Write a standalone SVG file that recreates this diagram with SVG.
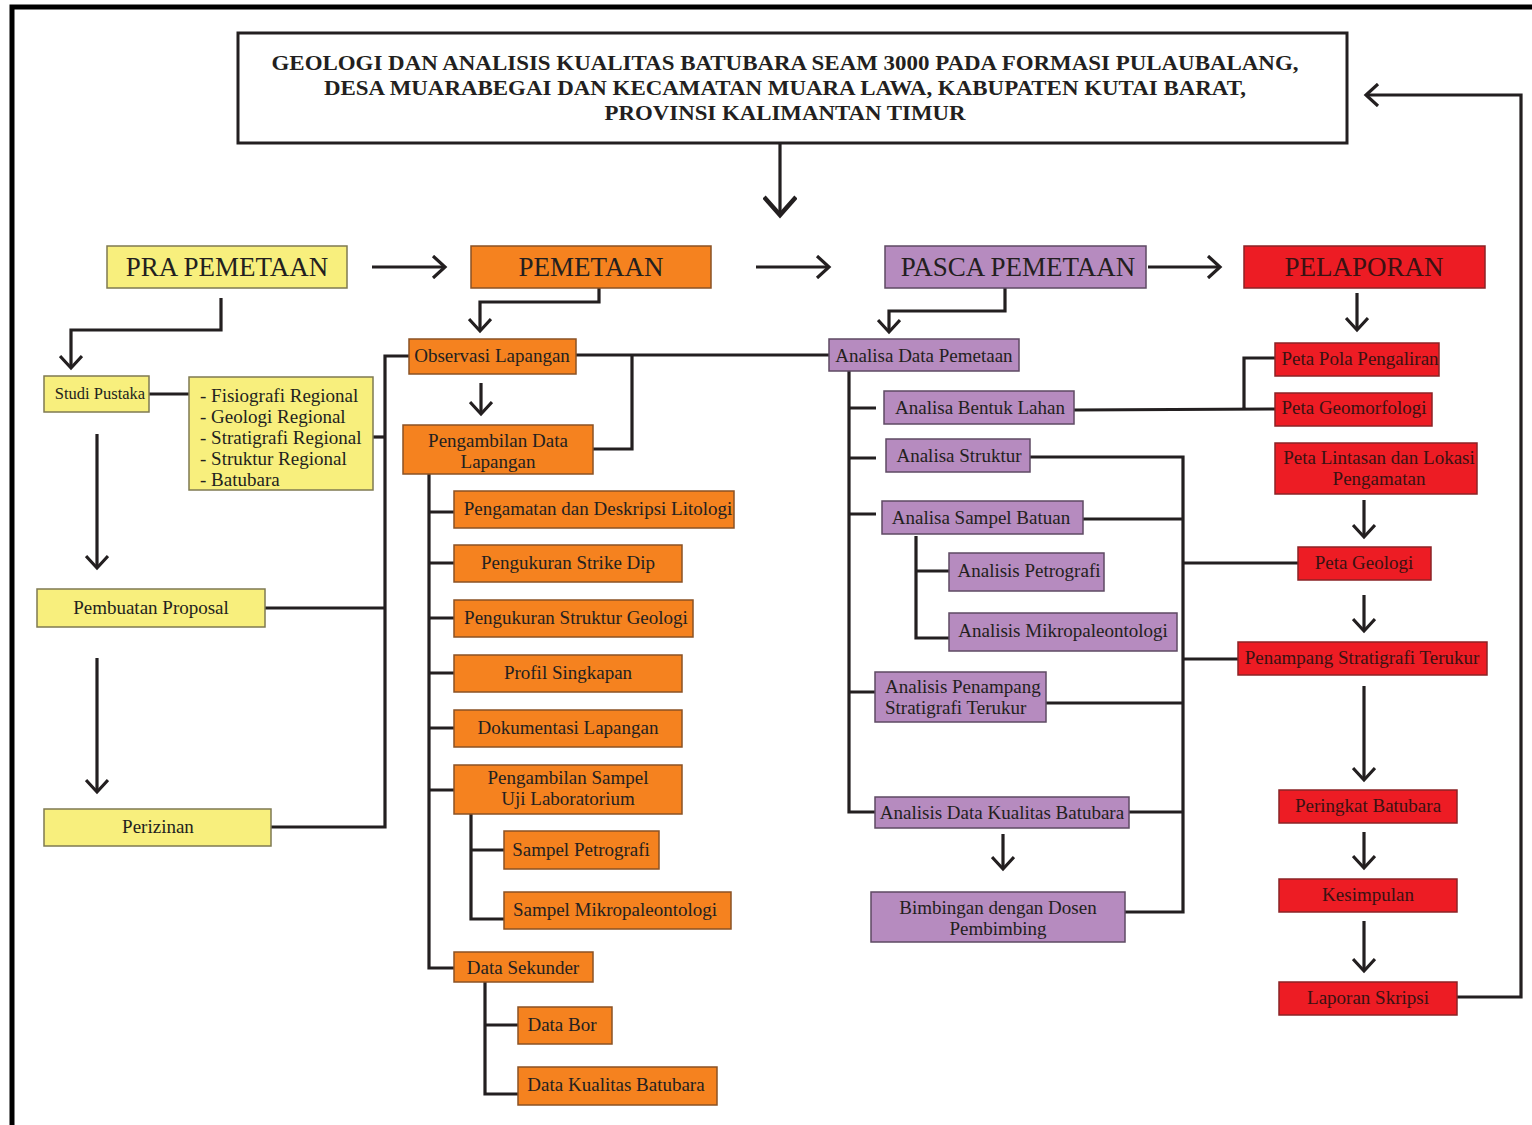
<svg xmlns="http://www.w3.org/2000/svg" width="1532" height="1125" viewBox="0 0 1532 1125">
<defs>
<style>
text{font-family:"Liberation Serif","Times New Roman",serif;fill:#231f20;text-anchor:middle}
.y{fill:#f8ef7d;stroke:#7f7a52;stroke-width:1.5}
.o{fill:#f5821f;stroke:#8a5224;stroke-width:1.5}
.p{fill:#b68bbf;stroke:#5e4a63;stroke-width:1.5}
.r{fill:#ed1c24;stroke:#8b2326;stroke-width:1.5}
.rt{fill:#3a1212}
.h{font-size:27px}
.n{font-size:19px}
.s{font-size:19px}
.c{fill:none;stroke:#231f20;stroke-width:3.2}
.lt{text-anchor:start}
</style>
<marker id="ah" viewBox="0 0 24 24" refX="21" refY="12" markerWidth="24" markerHeight="24" markerUnits="userSpaceOnUse" orient="auto">
<path d="M9,1 L21,12 L9,23" fill="none" stroke="#231f20" stroke-width="3.2"/>
</marker>
<marker id="ahL" viewBox="0 0 34 34" refX="30" refY="17" markerWidth="34" markerHeight="34" markerUnits="userSpaceOnUse" orient="auto">
<path d="M12,1 L30,17 L12,33" fill="none" stroke="#231f20" stroke-width="4.5"/>
</marker>
</defs>
<rect width="1532" height="1125" fill="#ffffff"/>
<g id="frame">
<path d="M12,1125 L12,7 L1532,7" fill="none" stroke="#000" stroke-width="5"/>
</g>

<g id="connectors">
<path class="c" d="M780,143 L780,215" stroke-width="4.5" marker-end="url(#ahL)"/>
<path class="c" d="M372,267 L445,267" marker-end="url(#ah)"/>
<path class="c" d="M756,267 L829,267" marker-end="url(#ah)"/>
<path class="c" d="M1148,267 L1220,267" marker-end="url(#ah)"/>
<path class="c" d="M221,298 L221,330 L71,330 L71,368" marker-end="url(#ah)"/>
<path class="c" d="M149,394 L189,394"/>
<path class="c" d="M97,434 L97,568" marker-end="url(#ah)"/>
<path class="c" d="M97,658 L97,792" marker-end="url(#ah)"/>
<path class="c" d="M409,356 L385,356 L385,827 L271,827"/>
<path class="c" d="M373,437 L385,437"/>
<path class="c" d="M265,608 L385,608"/>
<path class="c" d="M599,288 L599,302 L480,302 L480,331" marker-end="url(#ah)"/>
<path class="c" d="M576,355 L829,355"/>
<path class="c" d="M632,355 L632,449 L593,449"/>
<path class="c" d="M481,383 L481,414" marker-end="url(#ah)"/>
<path class="c" d="M429,474 L429,968 L454,968"/>
<path class="c" d="M429,512 L454,512 M429,563 L454,563 M429,618 L454,618 M429,673 L454,673 M429,728 L454,728 M429,790 L454,790"/>
<path class="c" d="M471,814 L471,919 L504,919 M471,850 L504,850"/>
<path class="c" d="M485,982 L485,1094 L518,1094 M485,1025 L518,1025"/>
<path class="c" d="M1005,288 L1005,311 L889,311 L889,332" marker-end="url(#ah)"/>
<path class="c" d="M849,371 L849,812 L875,812"/>
<path class="c" d="M849,408 L876,408 M849,458 L876,458 M849,514 L876,514 M849,692 L875,692"/>
<path class="c" d="M916,536 L916,638 L949,638 M916,571 L949,571"/>
<path class="c" d="M1003,834 L1003,869" marker-end="url(#ah)"/>
<path class="c" d="M1030,457 L1183,457 L1183,912 L1125,912"/>
<path class="c" d="M1083,519 L1183,519 M1183,563 L1298,563 M1183,659 L1238,659 M1046,703 L1183,703 M1129,812 L1183,812"/>
<path class="c" d="M1074,410 L1275,409 M1244,409 L1244,358 L1275,358"/>
<path class="c" d="M1357,293 L1357,330" marker-end="url(#ah)"/>
<path class="c" d="M1364,500 L1364,537" marker-end="url(#ah)"/>
<path class="c" d="M1364,595 L1364,631" marker-end="url(#ah)"/>
<path class="c" d="M1364,686 L1364,780" marker-end="url(#ah)"/>
<path class="c" d="M1364,832 L1364,868" marker-end="url(#ah)"/>
<path class="c" d="M1364,921 L1364,971" marker-end="url(#ah)"/>
<path class="c" d="M1457,997 L1521,997 L1521,95 L1366,95" marker-end="url(#ah)"/>
</g>

<g id="title">
<rect x="238" y="33" width="1109" height="110" fill="#fff" stroke="#231f20" stroke-width="3"/>
<text x="785" y="70" font-size="21" font-weight="bold" textLength="1027" lengthAdjust="spacingAndGlyphs">GEOLOGI DAN ANALISIS KUALITAS BATUBARA SEAM 3000 PADA FORMASI PULAUBALANG,</text>
<text x="785" y="95" font-size="21" font-weight="bold" textLength="922" lengthAdjust="spacingAndGlyphs">DESA MUARABEGAI DAN KECAMATAN MUARA LAWA, KABUPATEN KUTAI BARAT,</text>
<text x="785" y="120" font-size="21" font-weight="bold" textLength="361" lengthAdjust="spacingAndGlyphs">PROVINSI KALIMANTAN TIMUR</text>
</g>

<g id="pra-pemetaan"><rect class="y" x="107" y="246" width="240" height="42"/><text class="h" x="227" y="276">PRA PEMETAAN</text></g>
<g id="pemetaan"><rect class="o" x="471" y="246" width="240" height="42"/><text class="h" x="591" y="276">PEMETAAN</text></g>
<g id="pasca-pemetaan"><rect class="p" x="885" y="246" width="261" height="42"/><text class="h" x="1018" y="276">PASCA PEMETAAN</text></g>
<g id="pelaporan"><rect class="r" x="1244" y="246" width="241" height="42"/><text class="h rt" x="1364" y="276">PELAPORAN</text></g>

<g id="studi-pustaka"><rect class="y" x="44" y="376" width="105" height="36"/><text x="100" y="399" font-size="16.5">Studi Pustaka</text></g>
<g id="regional-list"><rect class="y" x="189" y="377" width="184" height="113"/>
<text class="n lt" x="200" y="402">- Fisiografi Regional</text>
<text class="n lt" x="200" y="423">- Geologi Regional</text>
<text class="n lt" x="200" y="444">- Stratigrafi Regional</text>
<text class="n lt" x="200" y="465">- Struktur Regional</text>
<text class="n lt" x="200" y="486">- Batubara</text></g>
<g id="pembuatan-proposal"><rect class="y" x="37" y="589" width="228" height="38"/><text class="n" x="151" y="614">Pembuatan Proposal</text></g>
<g id="perizinan"><rect class="y" x="44" y="809" width="227" height="37"/><text class="n" x="158" y="833">Perizinan</text></g>

<g id="observasi-lapangan"><rect class="o" x="409" y="339" width="167" height="35"/><text class="n" x="492" y="362">Observasi Lapangan</text></g>
<g id="pengambilan-data-lapangan"><rect class="o" x="403" y="425" width="190" height="49"/><text class="n" x="498" y="447">Pengambilan Data</text><text class="n" x="498" y="468">Lapangan</text></g>
<g id="pengamatan"><rect class="o" x="454" y="491" width="280" height="37"/><text class="n" x="598" y="515">Pengamatan dan Deskripsi Litologi</text></g>
<g id="strike-dip"><rect class="o" x="454" y="545" width="228" height="37"/><text class="n" x="568" y="569">Pengukuran Strike Dip</text></g>
<g id="struktur-geologi"><rect class="o" x="454" y="600" width="239" height="37"/><text class="n" x="576" y="624">Pengukuran Struktur Geologi</text></g>
<g id="profil-singkapan"><rect class="o" x="454" y="655" width="228" height="37"/><text class="n" x="568" y="679">Profil Singkapan</text></g>
<g id="dokumentasi"><rect class="o" x="454" y="710" width="228" height="37"/><text class="n" x="568" y="734">Dokumentasi Lapangan</text></g>
<g id="pengambilan-sampel"><rect class="o" x="454" y="765" width="228" height="49"/><text class="n" x="568" y="784">Pengambilan Sampel</text><text class="n" x="568" y="805">Uji Laboratorium</text></g>
<g id="sampel-petrografi"><rect class="o" x="504" y="831" width="155" height="38"/><text class="n" x="581" y="856">Sampel Petrografi</text></g>
<g id="sampel-mikro"><rect class="o" x="504" y="892" width="227" height="37"/><text class="n" x="615" y="916">Sampel Mikropaleontologi</text></g>
<g id="data-sekunder"><rect class="o" x="454" y="952" width="139" height="30"/><text class="n" x="523" y="974">Data Sekunder</text></g>
<g id="data-bor"><rect class="o" x="518" y="1007" width="94" height="37"/><text class="n" x="562" y="1031">Data Bor</text></g>
<g id="data-kualitas"><rect class="o" x="518" y="1067" width="199" height="38"/><text class="n" x="616" y="1091">Data Kualitas Batubara</text></g>

<g id="analisa-data-pemetaan"><rect class="p" x="829" y="339" width="190" height="32"/><text class="n" x="924" y="362">Analisa Data Pemetaan</text></g>
<g id="analisa-bentuk-lahan"><rect class="p" x="884" y="391" width="190" height="33"/><text class="n" x="980" y="414">Analisa Bentuk Lahan</text></g>
<g id="analisa-struktur"><rect class="p" x="886" y="439" width="144" height="33"/><text class="n" x="959" y="462">Analisa Struktur</text></g>
<g id="analisa-sampel-batuan"><rect class="p" x="882" y="501" width="201" height="33"/><text class="n" x="981" y="524">Analisa Sampel Batuan</text></g>
<g id="analisis-petrografi"><rect class="p" x="949" y="553" width="155" height="38"/><text class="n" x="1029" y="577">Analisis Petrografi</text></g>
<g id="analisis-mikro"><rect class="p" x="949" y="613" width="228" height="38"/><text class="n" x="1063" y="637">Analisis Mikropaleontologi</text></g>
<g id="analisis-penampang"><rect class="p" x="875" y="672" width="171" height="50"/><text class="n lt" x="885" y="693">Analisis Penampang</text><text class="n lt" x="885" y="714">Stratigrafi Terukur</text></g>
<g id="analisis-kualitas"><rect class="p" x="875" y="797" width="254" height="31"/><text class="n" x="1002" y="819">Analisis Data Kualitas Batubara</text></g>
<g id="bimbingan"><rect class="p" x="871" y="892" width="254" height="50"/><text class="n" x="998" y="914">Bimbingan dengan Dosen</text><text class="n" x="998" y="935">Pembimbing</text></g>

<g id="peta-pola"><rect class="r" x="1275" y="343" width="164" height="33"/><text class="s rt" x="1360" y="365">Peta Pola Pengaliran</text></g>
<g id="peta-geomorfologi"><rect class="r" x="1275" y="393" width="157" height="33"/><text class="s rt" x="1354" y="414">Peta Geomorfologi</text></g>
<g id="peta-lintasan"><rect class="r" x="1275" y="443" width="202" height="51"/><text class="s rt" x="1379" y="464">Peta Lintasan dan Lokasi</text><text class="s rt" x="1379" y="485">Pengamatan</text></g>
<g id="peta-geologi"><rect class="r" x="1298" y="547" width="133" height="33"/><text class="s rt" x="1364" y="569">Peta Geologi</text></g>
<g id="penampang-stratigrafi"><rect class="r" x="1238" y="642" width="249" height="33"/><text class="s rt" x="1362" y="664">Penampang Stratigrafi Terukur</text></g>
<g id="peringkat-batubara"><rect class="r" x="1279" y="790" width="178" height="33"/><text class="s rt" x="1368" y="812">Peringkat Batubara</text></g>
<g id="kesimpulan"><rect class="r" x="1279" y="879" width="178" height="33"/><text class="s rt" x="1368" y="901">Kesimpulan</text></g>
<g id="laporan-skripsi"><rect class="r" x="1279" y="982" width="178" height="33"/><text class="s rt" x="1368" y="1004">Laporan Skripsi</text></g>
</svg>
